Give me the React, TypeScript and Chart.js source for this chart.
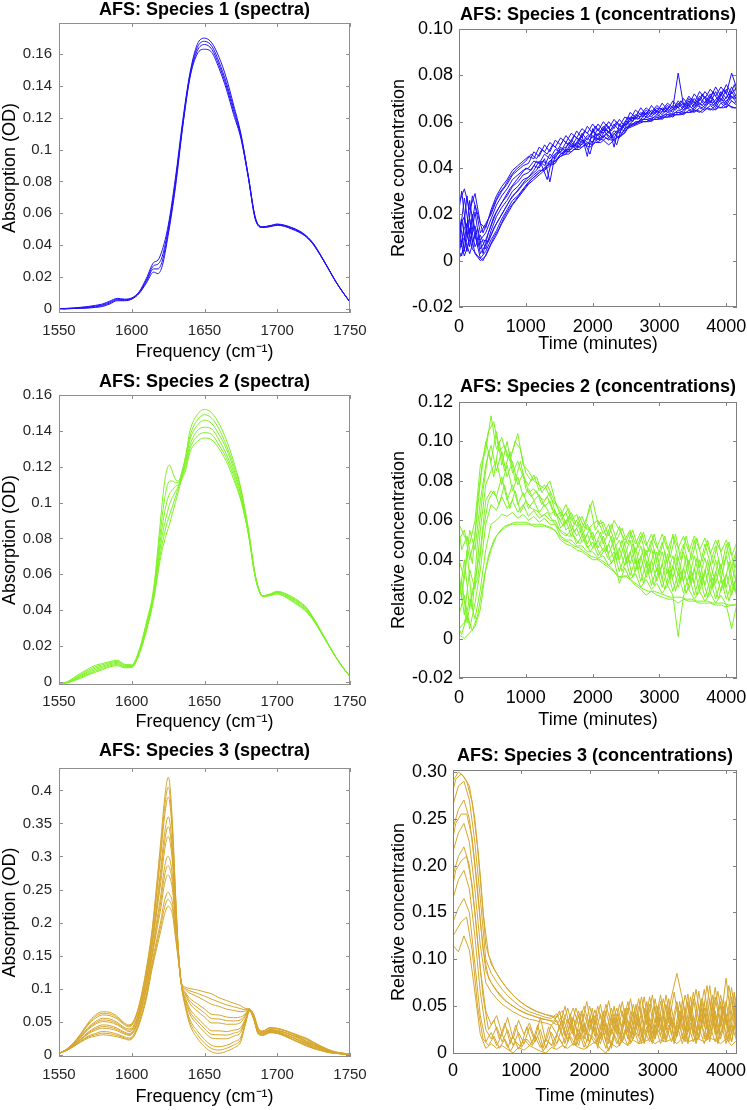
import React, { useEffect, useRef } from 'react';
import { Chart, registerables } from 'chart.js';

Chart.register(...registerables);

const FONT = "'Liberation Sans', Arial, Helvetica, sans-serif";

// ---------------- Species 1 : spectra ----------------
const S1_FREQ = [1550,1555,1560,1565,1570,1575,1580,1585,1590,1595,1600,1605,1610,1615,1618,1621,1625,1630,1635,1640,1645,1650,1655,1660,1665,1670,1675,1680,1685,1690,1695,1700,1705,1710,1715,1720,1725,1730,1735,1740,1745,1750];
const S1_SPEC_A = [0,.0002,.0005,.0009,.0014,.0021,.003,.0048,.0065,.006,.0068,.0105,.019,.029,.0305,.037,.052,.082,.118,.148,.166,.170,.167,.158,.145,.128,.110,.084,.057,.0515,.0522,.0532,.0525,.051,.049,.0458,.0408,.0335,.0255,.0175,.0105,.0042];
const S1_SPEC_B = [-.0002,.0001,.0003,.0006,.001,.0016,.0025,.0042,.006,.0057,.0065,.0102,.018,.027,.028,.033,.050,.080,.116,.147,.164,.168,.165,.155,.142,.126,.109,.084,.057,.0515,.052,.053,.0522,.0507,.0487,.0455,.0405,.0333,.0254,.0174,.0105,.0042];
const S1_SPEC_C = [-.0002,0,.0002,.0004,.0007,.0012,.002,.0036,.0055,.0053,.0062,.0098,.017,.025,.025,.030,.048,.078,.115,.146,.162,.166,.163,.153,.140,.124,.108,.083,.056,.051,.0518,.0527,.052,.0504,.0484,.0452,.0402,.0331,.0253,.0173,.0104,.0042];
const S1_SPEC_D = [-.0003,-.0001,.0001,.0002,.0004,.0008,.0014,.003,.005,.005,.006,.0095,.016,.023,.022,.027,.046,.076,.114,.145,.160,.163,.161,.151,.138,.122,.107,.083,.056,.051,.0515,.0524,.0517,.05,.048,.045,.04,.033,.0252,.0172,.0104,.0042];

// ---------------- Species 2 : spectra ----------------
const S2_FREQ = [1550,1555,1560,1565,1570,1575,1580,1585,1590,1595,1600,1605,1610,1615,1620,1622,1624,1626,1628,1630,1632,1634,1637,1640,1645,1650,1655,1660,1665,1670,1675,1680,1685,1690,1695,1700,1705,1710,1715,1720,1725,1730,1735,1740,1745,1750];
const S2_SPEC_A = [-.0008,-.0002,.0022,.0048,.0072,.0092,.0102,.0113,.012,.0098,.0095,.0175,.033,.052,.092,.108,.118,.121,.117,.113,.112,.116,.126,.140,.149,.152,.150,.144,.135,.123,.108,.086,.059,.048,.049,.0505,.0495,.0475,.045,.0415,.0355,.0285,.0212,.0142,.0082,.003];
const S2_SPEC_B = [-.0009,-.0003,.0018,.0042,.0064,.0084,.0095,.0107,.0114,.0094,.0092,.017,.032,.050,.086,.099,.108,.112,.112,.111,.111,.115,.125,.137,.146,.149,.147,.141,.132,.121,.107,.085,.059,.048,.0488,.0502,.0491,.047,.0445,.041,.0352,.0283,.0211,.0142,.0082,.003];
const S2_SPEC_C = [-.001,-.0004,.0014,.0036,.0057,.0076,.0088,.0101,.0108,.009,.0089,.0165,.031,.049,.081,.092,.100,.105,.107,.109,.110,.114,.123,.135,.143,.146,.144,.138,.130,.119,.105,.085,.059,.048,.0486,.0499,.0487,.0465,.044,.0405,.0349,.0281,.021,.0141,.0081,.003];
const S2_SPEC_D = [-.001,-.0005,.0011,.003,.005,.0068,.0081,.0095,.0102,.0086,.0086,.016,.030,.048,.077,.086,.093,.099,.103,.106,.109,.113,.122,.132,.140,.142,.141,.135,.127,.117,.104,.084,.058,.0478,.0484,.0496,.0483,.046,.0434,.040,.0346,.0279,.0209,.0141,.0081,.003];
const S2_SPEC_E = [-.0011,-.0006,.0008,.0025,.0044,.006,.0074,.0089,.0096,.0082,.0083,.0155,.029,.047,.073,.081,.088,.093,.098,.103,.108,.113,.120,.130,.137,.139,.138,.132,.125,.115,.102,.083,.058,.0477,.0482,.0493,.0479,.0455,.0428,.0395,.0343,.0277,.0208,.014,.008,.003];
const S2_SPEC_F = [-.0012,-.0007,.0005,.002,.0038,.0053,.0068,.0083,.009,.0078,.008,.015,.028,.0455,.070,.077,.083,.088,.094,.100,.106,.112,.118,.128,.134,.136,.135,.130,.123,.113,.101,.083,.058,.0476,.048,.049,.0475,.045,.0422,.039,.034,.0275,.0207,.014,.008,.003];

// ---------------- Species 3 : spectra ----------------
const S3_FREQ = [1550,1555,1560,1565,1570,1575,1580,1585,1590,1595,1598,1601,1605,1610,1614,1617,1620,1622,1624,1625,1626,1628,1630,1632,1634,1637,1640,1645,1650,1655,1660,1665,1670,1675,1678,1681,1684,1687,1690,1695,1700,1705,1710,1715,1720,1725,1730,1735,1740,1745,1750];
const S3_SPEC_A = [.002,.008,.018,.032,.048,.060,.065,.064,.058,.048,.045,.050,.075,.130,.190,.255,.325,.375,.412,.420,.412,.350,.250,.160,.108,.070,.045,.025,.012,.004,.002,.005,.010,.020,.045,.066,.052,.031,.029,.033,.032,.028,.023,.018,.013,.009,.006,.003,.002,.001,.000];
const S3_SPEC_AB = [.002,.0078,.0175,.031,.0465,.0575,.0625,.0615,.056,.0465,.0435,.0485,.073,.1265,.1855,.2475,.314,.3625,.3975,.405,.398,.340,.245,.159,.108,.0725,.049,.0305,.0175,.009,.007,.0095,.0145,.0235,.0465,.0665,.0525,.0315,.0295,.0335,.0325,.0285,.0235,.0185,.014,.0095,.0065,.0035,.002,.001,0];
const S3_SPEC_B = [.002,.0077,.017,.030,.045,.055,.060,.059,.054,.045,.042,.047,.071,.123,.181,.240,.303,.350,.383,.390,.384,.330,.240,.158,.108,.075,.053,.036,.023,.014,.012,.014,.019,.027,.048,.067,.053,.032,.030,.034,.033,.029,.024,.019,.015,.010,.007,.004,.002,.001,.000];
const S3_SPEC_C = [.002,.0074,.0162,.028,.041,.050,.055,.054,.049,.041,.039,.043,.066,.117,.172,.226,.282,.325,.354,.360,.355,.310,.230,.156,.108,.080,.061,.046,.034,.025,.024,.024,.028,.034,.051,.068,.054,.033,.031,.035,.034,.030,.026,.021,.016,.011,.008,.004,.002,.001,.000];
const S3_SPEC_CD = [.002,.0072,.0157,.027,.0395,.048,.0525,.0515,.047,.0395,.037,.041,.064,.1135,.168,.2195,.272,.3125,.340,.345,.3405,.300,.225,.155,.108,.0825,.065,.051,.0395,.0305,.030,.0295,.0325,.0375,.0525,.068,.0545,.0335,.0315,.0355,.0345,.0305,.0265,.0215,.017,.012,.0085,.0045,.0025,.001,.0005];
const S3_SPEC_D = [.002,.0071,.0153,.026,.038,.046,.050,.049,.045,.038,.035,.039,.062,.110,.164,.213,.262,.300,.326,.330,.326,.290,.220,.154,.108,.085,.069,.056,.045,.036,.036,.035,.037,.041,.054,.068,.055,.034,.032,.036,.035,.031,.027,.022,.018,.013,.009,.005,.003,.001,.001];
const S3_SPEC_E = [.002,.0068,.0145,.024,.034,.041,.045,.044,.040,.034,.032,.036,.058,.104,.155,.199,.242,.276,.298,.300,.297,.270,.210,.152,.108,.090,.077,.066,.057,.048,.048,.046,.046,.049,.058,.069,.056,.035,.033,.037,.036,.033,.029,.024,.019,.014,.010,.006,.003,.002,.001];
const S3_SPEC_EF = [.002,.0067,.0141,.0233,.0325,.039,.0425,.0415,.038,.0325,.0305,.0345,.056,.1005,.151,.1925,.232,.264,.284,.286,.283,.260,.205,.151,.108,.092,.081,.0715,.063,.0545,.054,.0515,.051,.053,.060,.069,.0565,.0355,.0335,.0375,.0365,.0335,.0295,.025,.020,.015,.0105,.006,.003,.002,.001];
const S3_SPEC_F = [.002,.0065,.0137,.0225,.031,.037,.040,.039,.036,.031,.029,.033,.054,.097,.147,.186,.222,.252,.270,.272,.269,.250,.200,.150,.108,.094,.085,.077,.069,.061,.060,.057,.056,.057,.062,.069,.057,.036,.034,.038,.037,.034,.030,.026,.021,.016,.011,.006,.003,.002,.001];
const S3_SPEC_G = [.002,.0062,.0128,.0207,.028,.032,.035,.034,.031,.027,.025,.029,.049,.090,.139,.172,.203,.228,.243,.246,.243,.230,.188,.147,.109,.098,.093,.088,.082,.076,.073,.069,.067,.065,.066,.069,.058,.038,.035,.040,.039,.036,.032,.027,.023,.017,.012,.007,.004,.002,.001];
const S3_SPEC_GH = [.002,.0061,.0124,.0199,.0265,.030,.0325,.0315,.029,.0255,.0235,.0275,.047,.087,.1345,.166,.1955,.218,.2325,.2355,.233,.221,.183,.1455,.1095,.100,.0965,.093,.0885,.084,.0795,.0755,.0725,.0695,.068,.069,.059,.039,.0355,.0405,.0395,.0365,.0325,.028,.024,.018,.0125,.0075,.004,.002,.001];
const S3_SPEC_H = [.002,.006,.012,.019,.025,.028,.030,.029,.027,.024,.022,.026,.045,.084,.130,.160,.188,.208,.222,.225,.223,.212,.178,.144,.110,.102,.100,.098,.095,.092,.086,.082,.078,.074,.070,.069,.060,.040,.036,.041,.040,.037,.033,.029,.025,.019,.013,.008,.004,.002,.001];

// ---------------- Time axes (minutes) for concentrations ----------------
const TIME_MIN = [0,80,160,240,320,400,480,560,640,720,800,880,960,1040,1120,1200,1280,1360,1440,1520,1600,1680,1760,1840,1920,2000,2080,2160,2240,2320,2400,2480,2560,2640,2720,2800,2880,2960,3040,3120,3200,3280,3360,3440,3520,3600,3680,3760,3840,3920,4000,4080,4160];
const TIME_MIN_B = [0,40,120,200,280,360,440,520,600,680,760,840,920,1000,1080,1160,1240,1320,1400,1480,1560,1640,1720,1800,1880,1960,2040,2120,2200,2280,2360,2440,2520,2600,2680,2760,2840,2920,3000,3080,3160,3240,3320,3400,3480,3560,3640,3720,3800,3880,3960,4040,4120,4160];

// ---------------- Species 1 : concentrations ----------------
const S1_CONC_A = [.025,.031,.022,.029,.016,.014,.022,.028,.032,.035, .039,.041,.043,.045,.044,.049,.047,.051,.049,.053, .051,.055,.053,.057,.055,.059,.056,.060,.057,.061, .058,.062,.061,.065,.063,.066,.064,.067,.065,.068, .066,.081,.067,.071,.068,.073,.070,.074,.071,.075, .072,.081,.074];
const S1_CONC_B = [.008,.027,.012,.024,.012,.016,.020,.026,.030,.033, .037,.039,.041,.042,.047,.045,.050,.047,.052,.050, .054,.051,.056,.053,.058,.055,.059,.056,.060,.057, .061,.058,.064,.062,.066,.063,.067,.064,.068,.065, .069,.066,.070,.067,.072,.069,.073,.070,.075,.071, .076,.072,.075];
const S1_CONC_C = [.020,.004,.026,.010,.009,.012,.018,.024,.028,.031, .035,.037,.039,.040,.043,.042,.046,.044,.048,.047, .051,.049,.053,.051,.054,.053,.057,.055,.058,.049, .059,.057,.062,.061,.064,.062,.065,.063,.066,.064, .067,.066,.068,.066,.070,.067,.071,.068,.073,.069, .074,.070,.072];
const S1_CONC_D = [.014,.019,.006,.021,.005,.009,.015,.021,.025,.028, .032,.034,.037,.038,.041,.040,.044,.034,.046,.048, .049,.052,.050,.055,.052,.056,.054,.058,.055,.059, .056,.060,.060,.063,.062,.065,.063,.066,.064,.067, .065,.069,.066,.070,.067,.071,.068,.072,.068,.073, .070,.075,.070];
const S1_CONC_E = [.003,.014,.018,.006,.011,.005,.013,.019,.023,.026, .030,.032,.035,.036,.039,.043,.041,.046,.044,.049, .047,.051,.049,.054,.045,.057,.052,.057,.053,.056, .055,.059,.059,.062,.061,.064,.062,.065,.063,.066, .064,.068,.065,.069,.066,.070,.067,.071,.067,.072, .068,.073,.069];
const S1_CONC_F = [.011,.002,.009,.015,.003,.007,.011,.016,.020,.024, .028,.030,.033,.035,.037,.039,.039,.043,.043,.046, .048,.048,.051,.050,.053,.051,.055,.053,.056,.053, .057,.056,.058,.060,.060,.062,.061,.063,.062,.064, .063,.065,.064,.067,.065,.068,.066,.069,.066,.070, .067,.071,.068];
const S1_CONC_G = [.006,.010,.003,.011,.001,.004,.009,.013,.018,.022, .026,.028,.031,.034,.036,.038,.040,.042,.043,.045, .046,.050,.048,.052,.050,.054,.051,.054,.052,.055, .053,.057,.058,.059,.061,.061,.060,.062,.061,.063, .062,.064,.063,.065,.064,.066,.065,.067,.065,.068, .066,.069,.067];
const S1_CONC_H = [.001,.005,.014,.003,0,.002,.007,.011,.016,.020, .024,.027,.030,.033,.035,.037,.039,.041,.042,.046, .047,.047,.049,.049,.051,.050,.053,.052,.050,.052, .054,.055,.059,.059,.060,.060,.061,.061,.062,.062, .063,.063,.064,.064,.065,.064,.066,.065,.067,.066, .068,.066,.066];
const S1_CONC_I = [.022,.030,.010,.028,.020,.012,.018,.024,.029,.032, .036,.039,.041,.043,.046,.044,.048,.046,.050,.048, .052,.050,.054,.052,.056,.054,.058,.055,.059,.056, .060,.057,.062,.060,.064,.062,.065,.063,.066,.064, .067,.065,.069,.066,.070,.067,.072,.068,.073,.069, .074,.070,.076,.072];
const S1_CONC_J = [.016,.006,.028,.008,.014,.003,.012,.019,.023,.027, .031,.034,.037,.040,.039,.043,.041,.035,.045,.047, .046,.051,.049,.053,.051,.046,.055,.053,.057,.054, .050,.058,.059,.062,.061,.064,.062,.065,.063,.066, .064,.067,.065,.068,.066,.069,.067,.070,.068,.071, .069,.072,.070,.071];
const S1_CONC_K = [.009,.018,.004,.020,.006,.009,.008,.014,.018,.022, .026,.029,.032,.035,.037,.039,.043,.042,.044,.046, .048,.047,.050,.049,.052,.050,.053,.052,.055,.053, .056,.055,.058,.059,.060,.061,.061,.062,.062,.063, .063,.064,.064,.066,.065,.067,.066,.068,.067,.069, .068,.070,.068,.069];
const S1_CONC_L = [.004,.002,.016,.005,.002,0,.005,.010,.014,.019, .023,.026,.029,.032,.035,.037,.039,.041,.042,.044, .046,.046,.048,.048,.050,.049,.051,.051,.053,.052, .053,.054,.057,.058,.059,.060,.060,.061,.061,.062, .062,.063,.063,.064,.064,.065,.064,.066,.065,.066, .066,.067,.066,.066];

// ---------------- Species 2 : concentrations ----------------
const S2_CONC_A = [.058,.052,.048,.060,.088,.095,.113,.096,.102,.092, .095,.104,.088,.085,.080,.078,.076,.080,.070,.062, .068,.060,.063,.056,.062,.070,.058,.059,.052,.060, .055,.050,.055,.048,.054,.047,.053,.046,.053,.045, .052,.046,.052,.044,.052,.045,.051,.043,.050,.044, .050,.042,.049];
const S2_CONC_B = [.050,.055,.040,.052,.080,.100,.090,.105,.088,.100, .084,.090,.082,.078,.083,.075,.078,.072,.068,.066, .058,.064,.057,.062,.055,.058,.060,.053,.058,.050, .057,.048,.054,.044,.052,.042,.050,.040,.049,.038, .053,.040,.048,.037,.050,.036,.048,.038,.047,.035, .048,.036,.046];
const S2_CONC_C = [.040,.030,.055,.045,.070,.088,.098,.085,.095,.082, .090,.078,.084,.074,.076,.072,.070,.074,.064,.060, .064,.055,.060,.052,.058,.050,.055,.048,.054,.045, .050,.042,.050,.038,.047,.036,.046,.034,.044,.033, .042,.032,.044,.030,.042,.031,.041,.029,.040,.030, .042,.028,.040];
const S2_CONC_D = [.030,.012,.035,.025,.055,.078,.085,.090,.078,.088, .075,.082,.072,.076,.070,.073,.067,.070,.062,.064, .055,.058,.052,.056,.048,.054,.046,.052,.043,.050, .040,.048,.038,.046,.035,.045,.033,.044,.030,.043, .031,.041,.029,.040,.028,.040,.027,.038,.028,.038, .026,.037,.027];
const S2_CONC_E = [.020,.040,.015,.030,.045,.070,.075,.072,.082,.070, .078,.068,.074,.066,.070,.064,.068,.063,.065,.056, .060,.052,.056,.049,.053,.046,.050,.044,.048,.040, .046,.037,.044,.034,.042,.031,.040,.029,.038,.027, .037,.026,.036,.025,.036,.024,.035,.023,.034,.024, .033,.022,.032];
const S2_CONC_F = [.012,.022,.005,.018,.035,.058,.068,.065,.072,.066, .070,.064,.068,.062,.065,.061,.063,.060,.060,.054, .052,.055,.048,.052,.046,.049,.042,.046,.040,.044, .034,.042,.032,.040,.029,.038,.027,.036,.026,.035, .024,.033,.023,.032,.022,.031,.021,.030,.020,.030, .020,.028,.022];
const S2_CONC_G = [.005,.008,.020,.010,.025,.045,.058,.060,.063,.062, .064,.061,.063,.060,.062,.059,.061,.058,.058,.052, .050,.050,.047,.047,.044,.044,.041,.042,.037,.040, .028,.036,.030,.033,.026,.030,.025,.028,.023,.027, .022,.001,.022,.025,.020,.024,.019,.023,.018,.022, .017,.005,.018];
const S2_CONC_H = [.002,0,.003,.006,.015,.035,.045,.052,.055,.057, .058,.058,.058,.058,.057,.057,.057,.056,.055,.050, .048,.047,.045,.044,.042,.040,.040,.038,.036,.034, .031,.032,.030,.027,.025,.022,.024,.022,.021,.020, .020,.018,.020,.019,.019,.018,.018,.018,.017,.017, .016,.017,.017];
const S2_CONC_I = [.055,.045,.052,.038,.070,.092,.105,.110,.095,.098, .090,.100,.096,.084,.080,.082,.074,.078,.072,.066, .062,.066,.058,.062,.056,.068,.055,.060,.052,.058, .050,.056,.048,.055,.046,.054,.044,.053,.042,.052, .041,.053,.040,.052,.040,.051,.039,.050,.038,.050, .037,.049,.036,.047];
const S2_CONC_J = [.035,.020,.045,.015,.050,.075,.095,.082,.100,.085, .095,.080,.090,.076,.072,.075,.068,.072,.065,.062, .057,.062,.054,.058,.050,.056,.047,.054,.044,.052, .040,.050,.038,.048,.035,.046,.033,.045,.032,.044, .030,.043,.029,.042,.028,.041,.027,.040,.026,.040, .025,.039,.024,.038];
const S2_CONC_K = [.018,.030,.008,.025,.030,.055,.070,.075,.068,.078, .066,.075,.064,.070,.066,.065,.062,.064,.060,.056, .054,.052,.052,.048,.050,.044,.048,.042,.046,.038, .044,.034,.042,.031,.040,.028,.038,.027,.036,.025, .035,.024,.034,.023,.033,.022,.032,.021,.031,.020, .030,.019,.029,.020];
const S2_CONC_L = [.005,.002,.012,.004,.012,.028,.042,.050,.054,.057, .058,.059,.059,.059,.058,.058,.058,.057,.056,.053, .050,.049,.047,.046,.044,.042,.041,.040,.038,.036, .032,.031,.032,.029,.027,.025,.024,.024,.023,.022, .021,.021,.021,.020,.020,.019,.019,.019,.018,.018, .018,.017,.017,.018];

// ---------------- Species 3 : concentrations ----------------
const S3_CONC_A = [.290,.300,.295,.285,.250,.190,.115,.095,.085,.076, .068,.062,.056,.052,.048,.045,.043,.041,.040,.038, .045,.032,.048,.030,.050,.028,.046,.025,.052,.030, .048,.022,.055,.030,.058,.025,.060,.032,.062,.028, .060,.085,.058,.030,.065,.035,.068,.030,.070,.032, .080,.035,.065];
const S3_CONC_B = [.265,.285,.290,.270,.225,.165,.100,.085,.076,.068, .061,.056,.051,.047,.044,.042,.040,.038,.037,.042, .028,.048,.025,.045,.022,.050,.030,.052,.020,.048, .028,.055,.022,.052,.028,.060,.022,.058,.025,.062, .030,.055,.025,.063,.022,.066,.028,.072,.025,.062, .030,.070,.028];
const S3_CONC_C = [.240,.260,.270,.250,.200,.140,.088,.075,.067,.060, .054,.050,.046,.043,.041,.039,.037,.036,.034,.030, .040,.022,.038,.018,.042,.024,.040,.015,.045,.020, .042,.028,.048,.018,.050,.030,.052,.020,.055,.025, .048,.018,.056,.022,.058,.025,.055,.020,.060,.028, .055,.022,.058];
const S3_CONC_D = [.215,.235,.245,.225,.175,.115,.075,.065,.058,.052, .048,.044,.041,.038,.036,.035,.033,.032,.030,.035, .018,.036,.020,.040,.015,.038,.018,.042,.012,.040, .020,.045,.015,.044,.018,.048,.015,.050,.018,.052, .020,.050,.015,.055,.018,.052,.015,.058,.020,.055, .015,.060,.018];
const S3_CONC_E = [.190,.210,.220,.200,.150,.090,.045,.030,.040,.020, .038,.015,.035,.020,.032,.015,.038,.012,.030,.020, .035,.012,.038,.015,.032,.010,.035,.020,.030,.008, .038,.012,.035,.020,.040,.012,.038,.018,.042,.015, .038,.020,.045,.012,.040,.018,.048,.015,.045,.020, .042,.012,.048];
const S3_CONC_F = [.165,.185,.195,.175,.125,.065,.025,.015,.028,.012, .025,.008,.022,.010,.028,.012,.025,.005,.022,.010, .028,.015,.025,.008,.030,.012,.028,.010,.032,.005, .030,.012,.028,.015,.035,.010,.032,.015,.038,.012, .035,.018,.040,.010,.038,.015,.042,.012,.040,.015, .038,.012,.042];
const S3_CONC_G = [.140,.155,.165,.150,.095,.040,.012,.022,.008,.020, .006,.018,.004,.015,.008,.018,.006,.015,.008,.020, .010,.022,.008,.025,.006,.020,.010,.022,.005,.025, .010,.022,.008,.028,.010,.025,.012,.030,.010,.028, .012,.030,.010,.032,.012,.028,.010,.030,.012,.035, .010,.030,.012];
const S3_CONC_H = [.115,.108,.125,.110,.065,.020,.005,.010,.005,.008, .004,0,.006,.003,.008,.005,.002,0,.006,.004, .008,.005,.010,.006,.004,.008,.012,.005,0,.010, .006,.012,.008,.014,.010,.012,.015,.010,.014,.012, .015,.010,.016,.012,.014,.015,.012,.016,.014,.010, .015,.008,.014];
const S3_CONC_I = [.280,.292,.298,.290,.268,.220,.150,.105,.090,.080, .072,.065,.059,.054,.050,.047,.044,.042,.040,.038, .028,.050,.025,.048,.030,.055,.022,.050,.028,.056, .024,.052,.030,.058,.025,.060,.030,.062,.028,.058, .032,.065,.028,.062,.035,.068,.030,.072,.035,.066, .030,.072,.038,.060];
const S3_CONC_J = [.230,.245,.255,.255,.230,.175,.110,.080,.070,.062, .056,.052,.048,.045,.042,.040,.038,.036,.035,.034, .045,.018,.042,.015,.045,.020,.048,.012,.045,.018, .050,.015,.048,.020,.052,.018,.055,.015,.050,.020, .058,.015,.055,.022,.060,.018,.058,.025,.062,.020, .058,.022,.065,.025];
const S3_CONC_K = [.180,.195,.205,.210,.180,.120,.060,.025,.035,.015, .032,.010,.030,.008,.028,.010,.030,.005,.028,.008, .030,.010,.035,.008,.032,.012,.038,.005,.035,.010, .038,.008,.040,.012,.042,.010,.045,.012,.040,.015, .048,.012,.045,.015,.050,.012,.048,.015,.052,.012, .050,.015,.048,.012];
const S3_CONC_L = [.125,.130,.140,.145,.110,.050,.015,.008,.018,.005, .015,.002,.012,.006,.015,.008,.018,.002,.012,.006, .015,.005,.018,.008,.020,.005,.018,.010,.022,.002, .020,.008,.025,.010,.022,.012,.028,.010,.025,.012, .030,.010,.028,.012,.032,.010,.030,.014,.035,.010, .032,.012,.030,.010];

// ---------------- Ticks ----------------
const FREQ_TICKS = [1550, 1600, 1650, 1700, 1750];
const FREQ_TICK_LABELS = ['1550', '1600', '1650', '1700', '1750'];
const TIME_TICKS = [0, 1000, 2000, 3000, 4000];
const TIME_TICK_LABELS = ['0', '1000', '2000', '3000', '4000'];
const S12_SPEC_YTICKS = [0, 0.02, 0.04, 0.06, 0.08, 0.1, 0.12, 0.14, 0.16];
const S12_SPEC_YLABELS = ['0', '0.02', '0.04', '0.06', '0.08', '0.1', '0.12', '0.14', '0.16'];
const S3_SPEC_YTICKS = [0, 0.05, 0.1, 0.15, 0.2, 0.25, 0.3, 0.35, 0.4];
const S3_SPEC_YLABELS = ['0', '0.05', '0.1', '0.15', '0.2', '0.25', '0.3', '0.35', '0.4'];
const S1_CONC_YTICKS = [-0.02, 0, 0.02, 0.04, 0.06, 0.08, 0.1];
const S1_CONC_YLABELS = ['-0.02', '0', '0.02', '0.04', '0.06', '0.08', '0.10'];
const S2_CONC_YTICKS = [-0.02, 0, 0.02, 0.04, 0.06, 0.08, 0.1, 0.12];
const S2_CONC_YLABELS = ['-0.02', '0', '0.02', '0.04', '0.06', '0.08', '0.10', '0.12'];
const S3_CONC_YTICKS = [0, 0.05, 0.1, 0.15, 0.2, 0.25, 0.3];
const S3_CONC_YLABELS = ['0', '0.05', '0.10', '0.15', '0.20', '0.25', '0.30'];

const BLUE = 'rgb(32,16,250)';
const GREEN = 'rgb(125,242,35)';
const GOLD = 'rgb(214,166,44)';

type Series = { x: number[]; y: number[] };
type PanelCfg = {
  left: number; top: number; w: number; h: number;
  title: string; titlePad: { top: number; bottom: number };
  xLabel: string; yLabel: string;
  series: Series[]; color: string; smooth: boolean;
  xMin: number; xMax: number; yMin: number; yMax: number;
  xTicks: number[]; xLabels: string[]; yTicks: number[]; yLabels: string[];
  yW: number; xH: number; rightPad: number;
  tickSize: number; tickColor: string;
  xTickPad: number; yTickPad: number; xTitlePad: number; yTitlePad: number;
  boxColor: string;
};

const on = (x: number[], ys: number[][]): Series[] => ys.map((y) => ({ x, y }));

const SPEC_TICK = { tickSize: 15, tickColor: '#262626', boxColor: '#8f8f8f' };
const CONC_TICK = { tickSize: 18, tickColor: '#000000', boxColor: '#808080' };
const FREQ_LABEL = 'Frequency (cm\u207B\u00B9)';

const PANELS: PanelCfg[] = [
  {
    left: 0, top: 0, w: 373, h: 370, title: 'AFS: Species 1 (spectra)', titlePad: { top: 1, bottom: 4 },
    xLabel: FREQ_LABEL, yLabel: 'Absorption (OD)',
    series: on(S1_FREQ, [S1_SPEC_A, S1_SPEC_B, S1_SPEC_C, S1_SPEC_D]), color: BLUE, smooth: true,
    xMin: 1550, xMax: 1750, yMin: -0.0027, yMax: 0.1795,
    xTicks: FREQ_TICKS, xLabels: FREQ_TICK_LABELS, yTicks: S12_SPEC_YTICKS, yLabels: S12_SPEC_YLABELS,
    yW: 59, xH: 57, rightPad: 23, xTickPad: 9, yTickPad: 7, xTitlePad: 9, yTitlePad: 1, ...SPEC_TICK,
  },
  {
    left: 373, top: 0, w: 374, h: 370, title: 'AFS: Species 1 (concentrations)', titlePad: { top: 6.5, bottom: 4.5 },
    xLabel: 'Time (minutes)', yLabel: 'Relative concentration',
    series: [
      ...on(TIME_MIN, [S1_CONC_A, S1_CONC_B, S1_CONC_C, S1_CONC_D, S1_CONC_E, S1_CONC_F, S1_CONC_G, S1_CONC_H]),
      ...on(TIME_MIN_B, [S1_CONC_I, S1_CONC_J, S1_CONC_K, S1_CONC_L]),
    ],
    color: BLUE, smooth: false,
    xMin: 0, xMax: 4160, yMin: -0.02, yMax: 0.1,
    xTicks: TIME_TICKS, xLabels: TIME_TICK_LABELS, yTicks: S1_CONC_YTICKS, yLabels: S1_CONC_YLABELS,
    yW: 86, xH: 63, rightPad: 10, xTickPad: 9, yTickPad: 6, xTitlePad: 16.5, yTitlePad: 16.7, ...CONC_TICK,
  },
  {
    left: 0, top: 370, w: 373, h: 370, title: 'AFS: Species 2 (spectra)', titlePad: { top: 3.5, bottom: 3.5 },
    xLabel: FREQ_LABEL, yLabel: 'Absorption (OD)',
    series: on(S2_FREQ, [S2_SPEC_A, S2_SPEC_B, S2_SPEC_C, S2_SPEC_D, S2_SPEC_E, S2_SPEC_F]), color: GREEN, smooth: true,
    xMin: 1550, xMax: 1750, yMin: -0.0018, yMax: 0.16,
    xTicks: FREQ_TICKS, xLabels: FREQ_TICK_LABELS, yTicks: S12_SPEC_YTICKS, yLabels: S12_SPEC_YLABELS,
    yW: 59, xH: 55, rightPad: 23, xTickPad: 8, yTickPad: 7, xTitlePad: 9, yTitlePad: 1, ...SPEC_TICK,
  },
  {
    left: 373, top: 370, w: 374, h: 370, title: 'AFS: Species 2 (concentrations)', titlePad: { top: 8.5, bottom: 5.5 },
    xLabel: 'Time (minutes)', yLabel: 'Relative concentration',
    series: [
      ...on(TIME_MIN, [S2_CONC_A, S2_CONC_B, S2_CONC_C, S2_CONC_D, S2_CONC_E, S2_CONC_F, S2_CONC_G, S2_CONC_H]),
      ...on(TIME_MIN_B, [S2_CONC_I, S2_CONC_J, S2_CONC_K, S2_CONC_L]),
    ],
    color: GREEN, smooth: false,
    xMin: 0, xMax: 4160, yMin: -0.02, yMax: 0.12,
    xTicks: TIME_TICKS, xLabels: TIME_TICK_LABELS, yTicks: S2_CONC_YTICKS, yLabels: S2_CONC_YLABELS,
    yW: 86, xH: 62, rightPad: 10, xTickPad: 9.2, yTickPad: 6, xTitlePad: 10.5, yTitlePad: 16.7, ...CONC_TICK,
  },
  {
    left: 0, top: 740, w: 373, h: 370, title: 'AFS: Species 3 (spectra)', titlePad: { top: 2.2, bottom: 7.8 },
    xLabel: FREQ_LABEL, yLabel: 'Absorption (OD)',
    series: on(S3_FREQ, [S3_SPEC_A, S3_SPEC_AB, S3_SPEC_B, S3_SPEC_C, S3_SPEC_CD, S3_SPEC_D, S3_SPEC_E, S3_SPEC_EF, S3_SPEC_F, S3_SPEC_G, S3_SPEC_GH, S3_SPEC_H]),
    color: GOLD, smooth: true,
    xMin: 1550, xMax: 1750, yMin: -0.0036, yMax: 0.434,
    xTicks: FREQ_TICKS, xLabels: FREQ_TICK_LABELS, yTicks: S3_SPEC_YTICKS, yLabels: S3_SPEC_YLABELS,
    yW: 59, xH: 53, rightPad: 23, xTickPad: 9.3, yTickPad: 7, xTitlePad: 3.5, yTitlePad: 1, ...SPEC_TICK,
  },
  {
    left: 373, top: 740, w: 374, h: 370, title: 'AFS: Species 3 (concentrations)', titlePad: { top: 6.8, bottom: 5.2 },
    xLabel: 'Time (minutes)', yLabel: 'Relative concentration',
    series: [
      ...on(TIME_MIN, [S3_CONC_A, S3_CONC_B, S3_CONC_C, S3_CONC_D, S3_CONC_E, S3_CONC_F, S3_CONC_G, S3_CONC_H]),
      ...on(TIME_MIN_B, [S3_CONC_I, S3_CONC_J, S3_CONC_K, S3_CONC_L]),
    ],
    color: GOLD, smooth: false,
    xMin: 0, xMax: 4160, yMin: -0.001, yMax: 0.302,
    xTicks: TIME_TICKS, xLabels: TIME_TICK_LABELS, yTicks: S3_CONC_YTICKS, yLabels: S3_CONC_YLABELS,
    yW: 80, xH: 56, rightPad: 10, xTickPad: 6.4, yTickPad: 6, xTitlePad: 5, yTitlePad: 16.7, ...CONC_TICK,
  },
];

const boxPlugin = {
  id: 'matlabBox',
  afterDatasetsDraw(chart: any, _args: any, opts: any) {
    const { ctx, chartArea: a, scales } = chart;
    const xs = scales.x;
    const ys = scales.y;
    const L = Math.round(a.left), R = Math.round(a.right), T = Math.round(a.top), B = Math.round(a.bottom);
    ctx.save();
    ctx.lineWidth = 1;
    ctx.strokeStyle = opts.color;
    ctx.beginPath();
    for (const t of ys.ticks) {
      const p = Math.round(ys.getPixelForValue(t.value)) + 0.5;
      ctx.moveTo(L, p); ctx.lineTo(L + 4, p);
      ctx.moveTo(R, p); ctx.lineTo(R - 4, p);
    }
    for (const t of xs.ticks) {
      const p = Math.round(xs.getPixelForValue(t.value)) + 0.5;
      ctx.moveTo(p, B); ctx.lineTo(p, B - 4);
      ctx.moveTo(p, T); ctx.lineTo(p, T + 4);
    }
    ctx.stroke();
    ctx.strokeRect(L + 0.5, T + 0.5, R - L - 1, B - T - 1);
    ctx.restore();
  },
};

function buildConfig(c: PanelCfg): any {
  return {
    type: 'line',
    data: {
      datasets: c.series.map((s) => ({
        data: s.y.map((y, i) => ({ x: s.x[i], y })),
        borderColor: c.color,
        borderWidth: 1,
        pointRadius: 0,
        fill: false,
        tension: 0,
        cubicInterpolationMode: c.smooth ? 'monotone' : 'default',
      })),
    },
    options: {
      animation: false,
      responsive: false,
      devicePixelRatio: 1,
      events: [],
      layout: { autoPadding: false, padding: { left: 0, top: 0, bottom: 0, right: c.rightPad } },
      plugins: {
        legend: { display: false },
        tooltip: { enabled: false },
        title: {
          display: true,
          text: c.title,
          color: '#000000',
          fullSize: false,
          font: { family: FONT, size: 18, weight: 'bold', lineHeight: 1 },
          padding: { top: c.titlePad.top, bottom: c.titlePad.bottom },
        },
        matlabBox: { color: c.boxColor },
      },
      scales: {
        x: {
          type: 'linear',
          min: c.xMin,
          max: c.xMax,
          afterBuildTicks: (s: any) => { s.ticks = c.xTicks.map((v) => ({ value: v })); },
          afterFit: (s: any) => { s.height = c.xH; s.paddingLeft = 0; s.paddingRight = 0; },
          grid: { display: false, drawTicks: false },
          border: { display: false },
          ticks: {
            autoSkip: false, maxRotation: 0, minRotation: 0,
            padding: c.xTickPad, color: c.tickColor,
            font: { family: FONT, size: c.tickSize, lineHeight: 1.2 },
            callback: (_v: any, i: number) => c.xLabels[i],
          },
          title: {
            display: true, text: c.xLabel, color: '#000000',
            font: { family: FONT, size: 18, lineHeight: 1 },
            padding: { top: 0, bottom: c.xTitlePad },
          },
        },
        y: {
          type: 'linear',
          min: c.yMin,
          max: c.yMax,
          afterBuildTicks: (s: any) => { s.ticks = c.yTicks.map((v) => ({ value: v })); },
          afterFit: (s: any) => { s.width = c.yW; s.paddingTop = 0; s.paddingBottom = 0; },
          grid: { display: false, drawTicks: false },
          border: { display: false },
          ticks: {
            autoSkip: false, padding: c.yTickPad, color: c.tickColor,
            font: { family: FONT, size: c.tickSize, lineHeight: 1.2 },
            callback: (_v: any, i: number) => c.yLabels[i],
          },
          title: {
            display: true, text: c.yLabel, color: '#000000',
            font: { family: FONT, size: 18, lineHeight: 1 },
            padding: { top: c.yTitlePad, bottom: 0 },
          },
        },
      },
    },
    plugins: [boxPlugin],
  };
}

function Panel({ cfg }: { cfg: PanelCfg }) {
  const ref = useRef<HTMLCanvasElement>(null);
  useEffect(() => {
    if (!ref.current) return;
    const chart = new Chart(ref.current, buildConfig(cfg));
    return () => chart.destroy();
  }, [cfg]);
  return (
    <canvas
      ref={ref}
      width={cfg.w}
      height={cfg.h}
      style={{ position: 'absolute', left: cfg.left, top: cfg.top, width: cfg.w, height: cfg.h }}
    />
  );
}

export default function App() {
  return (
    <div style={{ position: 'absolute', left: 0, top: 0, width: 747, height: 1110, background: '#ffffff' }}>
      {PANELS.map((p, i) => (
        <Panel key={i} cfg={p} />
      ))}
    </div>
  );
}
